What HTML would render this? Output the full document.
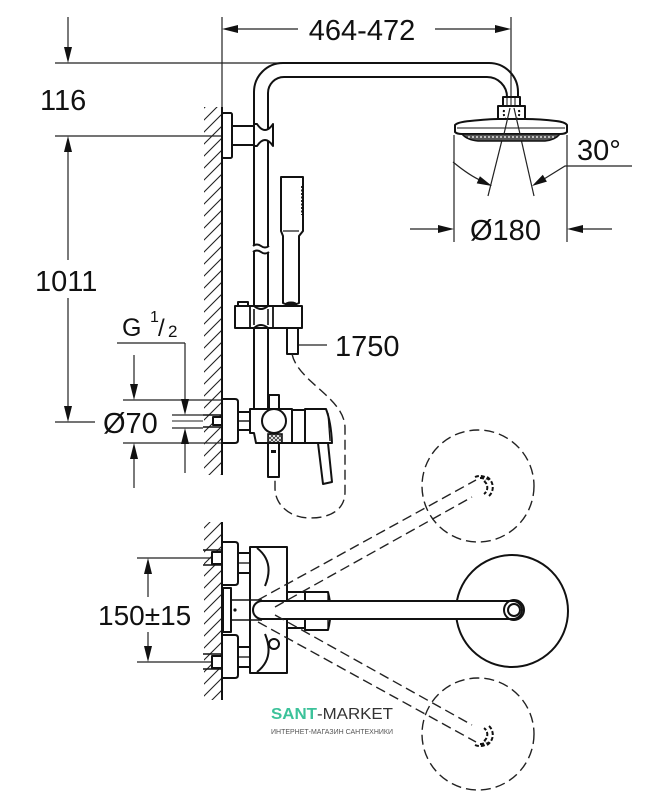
<!DOCTYPE html>
<html><head><meta charset="utf-8"><style>
html,body{margin:0;padding:0;background:#fff;}
svg{display:block;}
.d{stroke:#222;stroke-width:1.2;fill:none;}
.o{stroke:#111;stroke-width:2;fill:#fff;stroke-linejoin:round;}
.on{stroke:#111;stroke-width:2;fill:none;stroke-linejoin:round;}
.ds{stroke:#222;stroke-width:1.4;fill:none;stroke-dasharray:10,5;}
.t{font-family:"Liberation Sans",Arial,sans-serif;font-size:29px;fill:#111;}
.a{fill:#111;stroke:none;}
</style></head><body>
<svg width="667" height="800" viewBox="0 0 667 800" xmlns="http://www.w3.org/2000/svg">
<defs>
<pattern id="h" patternUnits="userSpaceOnUse" width="12" height="12">
<path d="M0,12 L12,0 M-3,3 L3,-3 M9,15 L15,9" stroke="#222" stroke-width="1.1"/>
</pattern>
<pattern id="x" patternUnits="userSpaceOnUse" width="4" height="4">
<path d="M0,0 L4,4 M4,0 L0,4" stroke="#333" stroke-width="0.8"/>
</pattern>
</defs>
<rect width="667" height="800" fill="#fff"/>

<!-- wall hatching -->
<rect x="204" y="107" width="18" height="368" fill="url(#h)"/>
<rect x="204" y="522" width="18" height="178" fill="url(#h)"/>

<!-- dimension lines -->
<g class="d">
<line x1="68" y1="17" x2="68" y2="55"/>
<line x1="55" y1="63" x2="284" y2="63"/>
<line x1="55" y1="136" x2="222" y2="136"/>
<line x1="68" y1="144" x2="68" y2="260"/>
<line x1="68" y1="298" x2="68" y2="414"/>
<line x1="55" y1="422" x2="95" y2="422"/>
<line x1="222" y1="17" x2="222" y2="107"/>
<line x1="230" y1="29" x2="298" y2="29"/>
<line x1="435" y1="29" x2="503" y2="29"/>
<line x1="511" y1="17" x2="511" y2="97"/>
<!-- Ø70 -->
<line x1="123" y1="400" x2="222" y2="400"/>
<line x1="123" y1="443" x2="222" y2="443"/>
<line x1="134" y1="355" x2="134" y2="392"/>
<line x1="134" y1="451" x2="134" y2="488"/>
<!-- G1/2 -->
<line x1="117" y1="343" x2="185" y2="343"/>
<line x1="185" y1="343" x2="185" y2="407"/>
<line x1="185" y1="436" x2="185" y2="473"/>
<!-- 1750 leader -->
<line x1="298" y1="345" x2="327" y2="345"/>
<!-- Ø180 -->
<line x1="454" y1="135" x2="454" y2="242"/>
<line x1="567" y1="135" x2="567" y2="242"/>
<line x1="410" y1="229" x2="440" y2="229"/>
<line x1="580" y1="229" x2="612" y2="229"/>
<!-- 30° -->
<line x1="510" y1="108" x2="488" y2="196"/>
<line x1="514" y1="108" x2="534" y2="196"/>
<path d="M453,162 Q470,176 482,181"/>
<path d="M632,166 L565,166 L544,179"/>
<!-- 150±15 -->
<line x1="137" y1="558" x2="212" y2="558"/>
<line x1="137" y1="662" x2="212" y2="662"/>
<line x1="148" y1="570" x2="148" y2="597"/>
<line x1="148" y1="632" x2="148" y2="650"/>
</g>

<!-- arrowheads -->
<g class="a">
<polygon points="68,63 64,47 72,47"/>
<polygon points="68,136 64,152 72,152"/>
<polygon points="68,422 64,406 72,406"/>
<polygon points="222,29 238,25 238,33"/>
<polygon points="511,29 495,25 495,33"/>
<polygon points="134,400 130,384 138,384"/>
<polygon points="134,443 130,459 138,459"/>
<polygon points="185,415 181,399 189,399"/>
<polygon points="185,428 181,444 189,444"/>
<polygon points="454,229 438,225 438,233"/>
<polygon points="567,229 583,225 583,233"/>
<polygon points="148,558 144,574 152,574"/>
<polygon points="148,662 144,646 152,646"/>
<polygon points="492,186 476.7,183.4 479.9,176.2"/>
<polygon points="532,186 546.9,181.6 542.8,174.8"/>
</g>

<!-- wall lines -->
<line x1="222" y1="107" x2="222" y2="475" stroke="#111" stroke-width="2"/>
<line x1="222" y1="522" x2="222" y2="700" stroke="#111" stroke-width="2"/>

<!-- shower pipe / rail -->
<path class="on" d="M254,246 L254,92 A29,29 0 0 1 283,63 L489,63 A29,29 0 0 1 518,92 L518,97"/>
<path class="on" d="M268,246 L268,93 A16,16 0 0 1 284,77 L487,77 A20,20 0 0 1 507,97"/>
<path class="on" stroke-width="1.5" d="M253,246 Q257,243 261,246 Q265,249 269,246"/>
<path class="on" stroke-width="1.5" d="M253,252 Q257,249 261,252 Q265,255 269,252"/>
<line x1="254" y1="252" x2="254" y2="409" stroke="#111" stroke-width="2"/>
<line x1="268" y1="252" x2="268" y2="409" stroke="#111" stroke-width="2"/>

<!-- top wall bracket -->
<rect class="o" x="222" y="113" width="10" height="45" rx="1.5"/>
<rect class="o" x="232" y="126" width="22" height="19"/>
<path class="o" d="M254,124 L257,124 Q261,130 265,130 Q269,130 273,124 L273,146 Q269,140 265,140 Q261,140 257,146 L254,146 Z"/>

<!-- hand shower -->
<path class="o" d="M281,177 L303,177 L303,231 L299,236 L299,303 Q291,307 283,303 L283,236 L281,231 Z"/>
<line x1="283" y1="231" x2="299" y2="231" stroke="#111" stroke-width="1.2"/>
<line x1="302" y1="186" x2="302" y2="215" stroke="#111" stroke-width="1.8" stroke-dasharray="2,1.5"/>

<!-- lower slider -->
<rect class="o" x="238" y="302" width="10" height="5"/>
<rect class="o" x="235" y="306" width="67" height="22"/>
<line x1="250" y1="306" x2="250" y2="328" stroke="#111" stroke-width="1.8"/>
<path class="on" stroke-width="1.6" d="M254,306 Q261,312 268,306 M254,328 Q261,322 268,328"/>
<line x1="254" y1="309" x2="254" y2="325" stroke="#111" stroke-width="1.6"/>
<line x1="268" y1="309" x2="268" y2="325" stroke="#111" stroke-width="1.6"/>
<line x1="273" y1="306" x2="273" y2="328" stroke="#111" stroke-width="1.8"/>
<ellipse cx="291" cy="304" rx="6" ry="2.5" fill="#111"/>
<rect class="o" x="287" y="328" width="11" height="26"/>

<!-- hose dashed -->
<path class="ds" stroke-dasharray="8,4" d="M292,354 C298,382 345,398 345,428 L345,492 C345,510 330,518 310,518 C290,518 275,505 275,488 L275,478"/>

<!-- side-view mixer -->
<line x1="203" y1="415" x2="222" y2="415" stroke="#111" stroke-width="1.6"/>
<line x1="203" y1="427" x2="222" y2="427" stroke="#111" stroke-width="1.6"/>
<line x1="172" y1="415" x2="203" y2="415" stroke="#222" stroke-width="1.2"/>
<line x1="172" y1="421" x2="203" y2="421" stroke="#222" stroke-width="1"/>
<line x1="172" y1="428" x2="203" y2="428" stroke="#222" stroke-width="1.2"/>
<rect class="o" x="213" y="417" width="9" height="8" stroke-width="1.5"/>
<path class="o" d="M222,399 L235,399 Q238,399 238,402 L238,440 Q238,443 235,443 L222,443 Z"/>
<rect class="o" x="238" y="412" width="12" height="18"/>
<line x1="238" y1="421" x2="250" y2="421" stroke="#111" stroke-width="1.4"/>
<rect class="o" x="269" y="395" width="10" height="14"/>
<path class="o" d="M250,409 L292,409 L292,443 L256,443 L254,433 L250,433 Z"/>
<circle class="o" cx="274" cy="421" r="12"/>
<rect x="268" y="434" width="14" height="9" fill="url(#x)" stroke="#111" stroke-width="1.6"/>
<rect class="o" x="268" y="443" width="11" height="34"/>
<rect x="271" y="450" width="5" height="3" fill="#111"/>
<rect class="o" x="292" y="410" width="13" height="33"/>
<path class="o" d="M305,409 L326,409 Q331,422 332,443 L305,443 Z"/>
<line x1="328" y1="413" x2="330" y2="441" stroke="#111" stroke-width="1.3"/>
<polygon class="o" points="318,443 323,484 332,482 328,443"/>

<!-- shower head (side) -->
<rect class="o" x="503" y="97" width="17" height="9"/>
<line x1="507" y1="98" x2="507" y2="105" stroke="#111" stroke-width="1"/>
<line x1="511" y1="98" x2="511" y2="105" stroke="#111" stroke-width="1"/>
<line x1="515" y1="98" x2="515" y2="105" stroke="#111" stroke-width="1"/>
<path class="o" d="M498,106 L525,106 L525,121 L498,121 Z"/>
<path class="on" stroke-width="1" stroke-dasharray="2,2" d="M504,110 Q503,116 506,120 M519,110 Q520,116 517,120"/>
<path class="o" d="M455,125 Q458,122 470,121 Q490,119 498,119 L525,119 Q540,119 556,121 Q565,122 567,125 L567,132 Q565,134 560,134 L462,134 Q457,134 455,132 Z"/>
<line x1="457" y1="128" x2="565" y2="128" stroke="#111" stroke-width="1"/>
<path d="M462,134 L560,134 Q555,140 545,141 L478,141 Q467,140 462,134 Z" fill="#555" stroke="#111" stroke-width="1.5"/>
<line x1="468" y1="137" x2="554" y2="137" stroke="#fff" stroke-width="1.2" stroke-dasharray="2,2"/>
<line x1="510" y1="108" x2="504" y2="134" stroke="#222" stroke-width="1.2"/>
<line x1="514" y1="108" x2="520" y2="134" stroke="#222" stroke-width="1.2"/>

<!-- bottom: top view -->
<line x1="203" y1="550" x2="222" y2="550" stroke="#111" stroke-width="1.6"/>
<line x1="203" y1="565" x2="222" y2="565" stroke="#111" stroke-width="1.6"/>
<rect class="o" x="212" y="552" width="10" height="12" stroke-width="1.6"/>
<line x1="203" y1="654" x2="222" y2="654" stroke="#111" stroke-width="1.6"/>
<line x1="203" y1="669" x2="222" y2="669" stroke="#111" stroke-width="1.6"/>
<rect class="o" x="212" y="656" width="10" height="12" stroke-width="1.6"/>

<rect class="o" x="250" y="547" width="37" height="126"/>
<path class="on" stroke-width="1.8" d="M257,548 Q275,562 265,586 M257,672 Q275,658 265,634"/>
<circle class="o" cx="274" cy="644" r="5" stroke-width="1.6"/>
<rect class="o" x="287" y="592" width="18" height="36"/>
<path class="o" d="M305,592 L328,592 Q333,611 328,630 L305,630 Z"/>
<line x1="328" y1="592" x2="328" y2="630" stroke="#111" stroke-width="1.3"/>

<path class="o" d="M222,542 L235,542 Q238,542 238,545 L238,582 Q238,585 235,585 L222,585 Z"/>
<path class="o" d="M222,635 L235,635 Q238,635 238,638 L238,675 Q238,678 235,678 L222,678 Z"/>
<rect class="o" x="223" y="588" width="8" height="44"/>
<rect class="o" x="238" y="553" width="12" height="20"/>
<line x1="238" y1="563" x2="250" y2="563" stroke="#111" stroke-width="1.3"/>
<rect class="o" x="238" y="647" width="12" height="20"/>
<line x1="238" y1="657" x2="250" y2="657" stroke="#111" stroke-width="1.3"/>

<line x1="231" y1="600" x2="262" y2="600" stroke="#111" stroke-width="1.6"/>
<line x1="231" y1="620" x2="262" y2="620" stroke="#111" stroke-width="1.6"/>
<circle cx="235" cy="610" r="1.6" fill="#111"/>

<!-- big head circle -->
<circle class="on" cx="512" cy="611" r="56"/>
<!-- arm -->
<path class="o" d="M262,601 L513,601 A9,9 0 0 1 513,619 L262,619 A9,9 0 0 1 262,601 Z"/>
<circle class="on" cx="514" cy="610" r="10"/>
<circle class="on" cx="514" cy="610" r="6" stroke-width="1.5"/>

<!-- dashed rotated positions -->
<circle class="ds" stroke-dasharray="12,6" cx="478" cy="486" r="56"/>
<circle class="ds" stroke-dasharray="12,6" cx="478" cy="734" r="56"/>
<line class="ds" x1="258" y1="600" x2="476" y2="480"/>
<line class="ds" x1="275" y1="607" x2="472" y2="497"/>
<line class="ds" x1="258" y1="622" x2="476" y2="742"/>
<line class="ds" x1="275" y1="615" x2="472" y2="725"/>
<path class="on" stroke-width="1.3" stroke-dasharray="4,2" d="M475,477 A12,12 0 0 1 489,480 M487,477 A12,12 0 0 1 489,496 M484,481 A8,8 0 0 1 484,494 M480,478 A8,8 0 0 1 486,480"/>
<path class="on" stroke-width="1.3" stroke-dasharray="4,2" d="M475,745 A12,12 0 0 0 489,742 M487,745 A12,12 0 0 0 489,726 M484,741 A8,8 0 0 0 484,728 M480,744 A8,8 0 0 0 486,742"/>

<!-- texts -->
<text class="t" x="362" y="40" text-anchor="middle">464-472</text>
<text class="t" x="40" y="110">116</text>
<text class="t" x="35" y="291">1011</text>
<text class="t" x="122" y="336" style="font-size:25px">G</text>
<text class="t" x="150" y="322" style="font-size:16px">1</text>
<text class="t" x="158" y="336" style="font-size:24px">/</text>
<text class="t" x="168" y="337" style="font-size:17px">2</text>
<text class="t" x="103" y="433">Ø70</text>
<text class="t" x="335" y="356">1750</text>
<text class="t" x="577" y="160">30°</text>
<text class="t" x="470" y="240">Ø180</text>
<text class="t" x="98" y="625" style="font-size:28px">150±15</text>

<!-- watermark -->
<text x="271" y="719" style="font-family:'Liberation Sans',Arial,sans-serif;font-size:15.5px;" textLength="122" lengthAdjust="spacingAndGlyphs"><tspan fill="#3cc29a" font-weight="bold">SANT</tspan><tspan fill="#333">-MARKET</tspan></text>
<text x="271" y="734" fill="#555" style="font-family:'Liberation Sans',Arial,sans-serif;font-size:7.5px;" textLength="122" lengthAdjust="spacingAndGlyphs">ИНТЕРНЕТ-МАГАЗИН САНТЕХНИКИ</text>
</svg>
</body></html>
